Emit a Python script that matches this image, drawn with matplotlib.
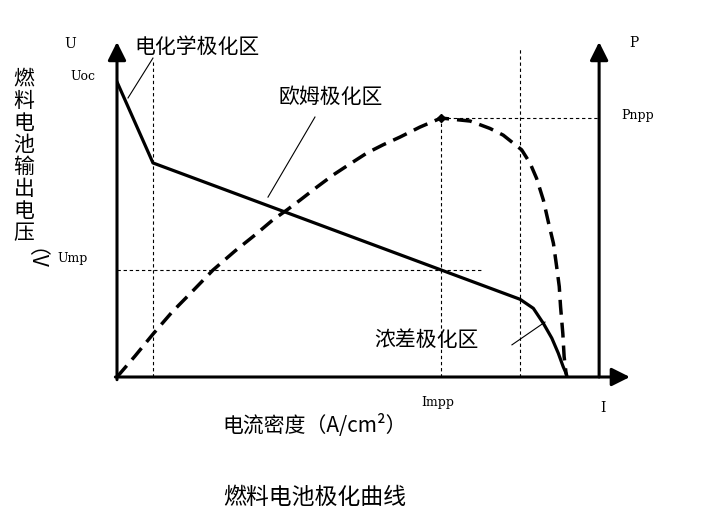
import matplotlib
matplotlib.use("Agg")
import matplotlib.pyplot as plt

plt.rcParams['font.family'] = ['Noto Sans CJK SC', 'DejaVu Sans']

# voltage curve (solid): activation drop, ohmic line, concentration drop
u_x = [0, 1.11, 12.44, 12.85, 13.16, 13.42, 13.62, 13.77, 13.86]
u_y = [8.81, 6.39, 2.32, 2.05, 1.60, 1.16, 0.71, 0.31, 0.11]

# power curve (dashed)
p_x = [0, 0.56, 1.11, 1.70, 2.31, 2.96, 3.64, 4.26, 4.81, 5.25, 5.65,
       6.17, 6.67, 7.19, 7.72, 8.21, 8.73, 9.35, 10.0,
       10.90, 11.51, 11.92, 12.49, 12.75, 12.95, 13.16, 13.31, 13.47,
       13.57, 13.65, 13.69, 13.76, 13.80, 13.86, 13.89]
p_y = [0, 0.63, 1.28, 1.94, 2.54, 3.19, 3.76, 4.24, 4.69, 4.99, 5.28,
       5.67, 6.03, 6.36, 6.69, 6.93, 7.16, 7.46, 7.73,
       7.64, 7.42, 7.22, 6.78, 6.38, 5.93, 5.28, 4.64, 3.99,
       3.29, 2.70, 2.10, 1.30, 0.61, 0.11, 0]

x_knee = 1.11
x_impp = 10.0
x_conc = 12.44
y_ump = 3.19
y_pmpp = 7.73
x_right = 14.88

fig = plt.figure(figsize=(7.26, 5.15), dpi=100)
ax = fig.add_axes([117 / 726, 138 / 515, 518.4 / 726, 351.75 / 515])
ax.set_xlim(0, 16)
ax.set_ylim(0, 10.5)
ax.axis('off')

arw = dict(arrowstyle='-|>,head_length=0.5,head_width=0.25', lw=2.2,
           color='black', mutation_scale=22, shrinkA=0, shrinkB=0)
ax.annotate('', xy=(0, 10), xytext=(0, -0.08), arrowprops=arw)
ax.annotate('', xy=(15.83, 0), xytext=(-0.05, 0), arrowprops=arw)
ax.annotate('', xy=(x_right, 10), xytext=(x_right, 0), arrowprops=arw)

# guide lines
gl = dict(color='black', lw=0.8, ls=(0, (3, 2.5)))
ax.plot([x_knee, x_knee], [0, 9.46], **gl)
ax.plot([x_impp, x_impp], [0, y_pmpp], **gl)
ax.plot([x_conc, x_conc], [0, 9.85], **gl)
ax.plot([x_impp, x_right], [y_pmpp, y_pmpp], **gl)
ax.plot([0, 11.27], [y_ump, y_ump], **gl)

ax.plot(u_x, u_y, color='black', lw=2.3, solid_joinstyle='round')
ax.plot(p_x, p_y, color='black', lw=2.5, ls=(0, (4.3, 2.3)))
ax.plot([x_impp], [y_pmpp], marker='D', ms=4, color='black')

# region labels with leader lines
ax.plot([1.11, 0.34], [9.52, 8.33], color='black', lw=0.8)
ax.plot([6.11, 4.66], [7.76, 5.37], color='black', lw=0.8)
ax.plot([12.19, 13.21], [0.96, 1.64], color='black', lw=0.8)
ax.text(0.55, 9.85, '电化学极化区', fontsize=15, va='center', ha='left')
ax.text(5.0, 8.35, '欧姆极化区', fontsize=15, va='center', ha='left')
ax.text(7.95, 1.12, '浓差极化区', fontsize=15, va='center', ha='left')

# axis symbols
sf = dict(family='DejaVu Serif', color='black', ha='center', va='center')
ax.text(-1.45, 9.94, 'U', fontsize=10, **sf)
ax.text(-1.05, 8.96, 'Uoc', fontsize=9, **sf)
ax.text(-1.36, 3.55, 'Ump', fontsize=9, **sf)
ax.text(15.96, 9.97, 'P', fontsize=10, **sf)
ax.text(16.08, 7.82, 'Pnpp', fontsize=9, **sf)
ax.text(9.91, -0.75, 'Impp', fontsize=9, **sf)
ax.text(15.0, -0.93, 'I', fontsize=10, **sf)

# vertical y label
ylab = '燃料电池输出电压'
for i, ch in enumerate(ylab):
    fig.text(24 / 726, 1 - (79 + 22 * i) / 515, ch, fontsize=15,
             ha='center', va='center')
fig.text(24 / 726, 1 - 264 / 515, '（V', fontsize=15, rotation=-90,
         ha='center', va='center')

fig.text(315 / 726, 1 - 425 / 515, '电流密度（A/cm²）', fontsize=15,
         ha='center', va='center')
fig.text(315 / 726, 1 - 497 / 515, '燃料电池极化曲线', fontsize=16.5,
         ha='center', va='center')

fig.savefig('out.png', dpi=100, facecolor='white')
